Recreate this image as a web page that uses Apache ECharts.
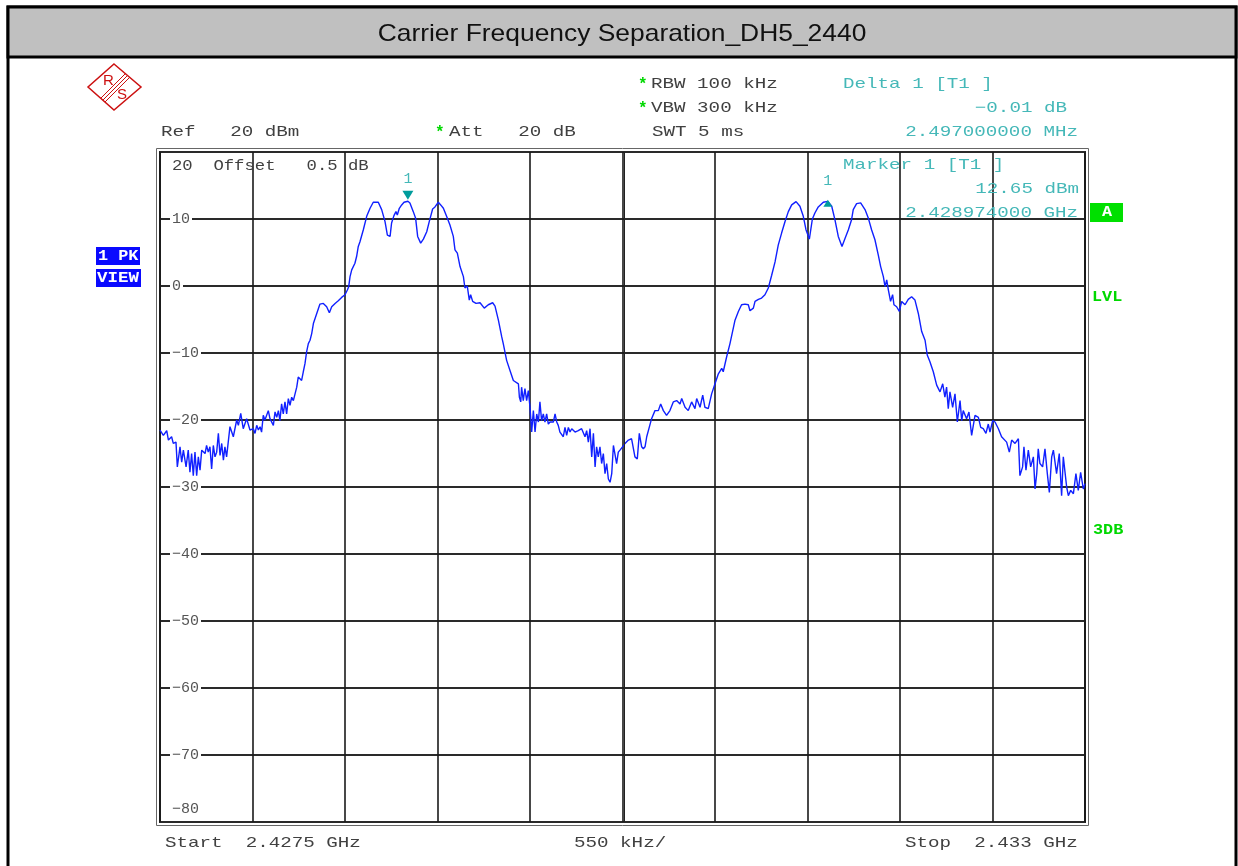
<!DOCTYPE html>
<html>
<head>
<meta charset="utf-8">
<script src="https://cdn.jsdelivr.net/npm/echarts@6/dist/echarts.min.js"></script>
<style>
  html, body { margin: 0; padding: 0; background: #fff; }
  #chart { width: 1238px; height: 866px; }
</style>
</head>
<body>
<div id="chart"></div>
<script>
// sweep runs 2.4275 GHz .. 2.433 GHz, x kept as offset from start in kHz
var spanKHz = 5500;
var divKHz = 550;
var offsetKHz = [
  0,20,40,50,69,79,95,103,119,129,
  139,155,168,178,188,198,208,218,228,238,
  248,268,277,287,297,307,317,327,337,347,
  357,367,377,386,396,416,436,456,466,480,
  495,515,535,555,565,575,585,595,604,614,
  624,644,654,674,684,694,704,713,723,733,
  743,753,763,773,783,793,813,822,842,852,
  862,872,882,892,902,912,932,951,971,981,
  991,1007,1021,1041,1060,1080,1100,1114,1122,1130,
  1140,1159,1169,1179,1189,1209,1229,1249,1268,1298,
  1318,1338,1352,1368,1377,1391,1403,1411,1423,1437,
  1451,1474,1486,1506,1520,1532,1550,1566,1586,1601,
  1621,1635,1655,1669,1685,1704,1724,1744,1754,1768,
  1784,1804,1813,1827,1839,1847,1859,1879,1903,1928,
  1952,1978,1992,2012,2032,2041,2061,2081,2101,2111,
  2131,2137,2145,2150,2160,2170,2180,2190,2200,2210,
  2220,2230,2240,2250,2259,2269,2279,2289,2299,2309,
  2319,2339,2349,2359,2368,2378,2398,2408,2418,2428,
  2438,2448,2468,2487,2507,2517,2527,2537,2547,2557,
  2567,2577,2587,2596,2606,2616,2626,2636,2646,2656,
  2666,2676,2686,2696,2705,2715,2725,2735,2751,2765,
  2785,
  2804,2824,2838,2850,2864,2874,2884,2894,2909,2923,
  2943,2963,2977,2993,3012,3032,3052,3072,3092,3102,
  3122,3141,3161,3181,3191,3211,3227,3240,3260,3280,
  3300,3320,3340,3349,3369,3389,3419,3439,3458,3478,
  3498,3508,3528,3538,3558,3577,3597,3617,3637,3657,
  3676,3696,3716,3736,3756,3782,3805,3825,3841,3861,
  3879,3894,3914,3944,3971,3994,4013,4033,4055,4073,
  4093,4112,4122,4142,4166,4192,4212,4231,4251,4271,
  4285,4301,4311,4321,4331,4344,4356,4364,4380,4396,
  4410,4430,4449,4469,4489,4509,4529,4549,4562,4578,
  4598,4618,4638,4654,4667,4677,4687,4697,4713,4727,
  4741,4757,4767,4776,4796,4810,4826,4846,4866,4880,
  4895,4911,4925,4935,4951,4965,4985,5004,5034,5050,
  5064,5084,5104,5113,5129,5137,5149,5163,5177,5193,
  5203,5213,5222,5232,5248,5262,5276,5288,5302,5312,
  5331,5347,5361,5371,5391,5401,5415,5431,5446,5460,
  5474,5490,5500
];
var levelDbm = [
  -21.5,-22.3,-21.6,-23.0,-22.5,-23.5,-23.3,-27.0,-24.0,-26.3,
  -24.5,-27.0,-24.5,-27.8,-25.0,-28.3,-24.8,-28.3,-25.5,-27.5,
  -24.5,-25.0,-23.8,-24.8,-24.0,-27.3,-23.8,-25.5,-24.8,-22.0,
  -25.3,-23.5,-26.0,-24.0,-25.5,-21.0,-22.5,-20.0,-20.8,-19.0,
  -21.3,-19.8,-21.5,-21.3,-22.0,-20.8,-21.5,-21.0,-21.8,-19.3,
  -20.0,-18.6,-19.8,-20.8,-18.8,-19.6,-18.6,-20.1,-17.6,-19.1,
  -17.3,-19.1,-16.8,-17.8,-16.6,-17.1,-15.1,-13.6,-14.1,-12.8,
  -11.6,-9.8,-8.6,-8.1,-7.1,-5.6,-4.1,-2.7,-2.6,-2.6,
  -3.1,-4.0,-3.1,-2.6,-2.2,-1.7,-1.3,-0.6,-0.1,1.4,
  2.4,3.4,4.4,5.9,6.6,8.4,10.4,11.6,12.5,12.5,
  11.4,9.6,7.6,7.4,9.4,10.5,11.1,10.6,11.6,12.1,
  12.5,12.65,12.4,11.1,10.1,7.4,6.4,7.0,8.1,9.6,
  11.5,11.8,12.5,12.1,11.6,10.4,9.1,7.4,5.4,4.9,
  2.9,1.4,-0.3,0.0,-2.1,-1.3,-2.3,-2.6,-2.5,-3.3,
  -2.8,-2.5,-3.0,-5.1,-7.6,-8.6,-11.1,-12.6,-14.1,-14.3,
  -14.6,-16.6,-17.3,-15.1,-17.1,-15.3,-17.1,-15.6,-18.1,-21.8,
  -18.6,-21.8,-19.1,-20.3,-17.3,-20.1,-19.1,-20.3,-19.1,-20.6,
  -20.3,-20.3,-19.1,-20.3,-20.8,-21.8,-22.5,-21.1,-22.3,-21.1,
  -21.8,-21.3,-21.8,-21.6,-21.3,-21.1,-22.5,-21.6,-23.3,-21.3,
  -25.5,-22.0,-27.0,-24.0,-25.5,-24.0,-26.5,-25.0,-28.0,-26.5,
  -28.8,-29.3,-28.0,-23.8,-24.0,-26.5,-24.8,-24.5,-24.0,-23.5,
  -23.0,
  -22.8,-25.5,-25.8,-22.0,-24.0,-24.3,-24.0,-22.5,-21.1,-19.8,
  -18.6,-18.6,-17.6,-18.6,-19.3,-18.6,-17.3,-17.1,-17.6,-16.8,
  -18.1,-18.6,-17.3,-18.3,-16.8,-18.1,-16.3,-18.1,-18.3,-16.1,
  -14.6,-13.1,-12.3,-12.8,-10.6,-8.6,-5.1,-3.8,-2.8,-2.7,
  -2.8,-3.7,-3.3,-2.3,-2.0,-1.8,-1.3,-0.3,1.6,3.6,
  6.1,7.9,9.6,11.1,12.1,12.6,11.9,10.4,8.4,7.0,
  10.0,10.9,11.8,12.5,12.64,11.9,9.9,7.4,5.9,7.1,
  8.4,9.9,11.4,12.3,12.4,11.4,10.1,8.4,6.9,4.6,
  2.9,1.4,-0.1,0.9,-0.6,-2.3,-1.3,-2.8,-3.1,-3.8,
  -2.3,-2.8,-2.0,-1.6,-2.1,-4.1,-6.8,-8.1,-10.3,-11.3,
  -12.8,-14.8,-15.8,-14.6,-16.6,-15.1,-18.3,-15.8,-18.1,-16.1,
  -20.3,-17.1,-20.1,-18.6,-19.8,-18.8,-22.3,-19.3,-19.6,-21.1,
  -21.3,-22.0,-20.6,-21.8,-20.1,-20.3,-21.3,-22.5,-23.3,-24.8,
  -23.0,-23.5,-22.8,-28.3,-27.0,-24.0,-27.5,-24.5,-27.0,-25.5,
  -30.3,-28.0,-24.3,-26.5,-27.0,-24.3,-28.0,-30.8,-25.5,-24.5,
  -28.0,-25.0,-31.3,-25.5,-30.0,-31.3,-30.5,-31.0,-28.0,-30.5,
  -27.8,-30.3,-29.5
];
var refLevel = 20;
var bottomLevel = -80;
// marker 1 and delta marker (2.497 MHz to the right)
var markerKHz = [1474, 3971];
var markerDbm = [12.65, 12.64];
var centerLineKHz = 2762;

var MONO = '"Liberation Mono", "DejaVu Sans Mono", monospace';
var GRAY = '#404040';
var CYAN = '#45b8b8';
var GREEN = '#00d800';
var RED = '#cc1010';

var trace = offsetKHz.map(function (f, i) { return [f, levelDbm[i]]; });

function txt(x, y, s, color, align, sx, font) {
  return {
    type: 'text', x: x, y: y, scaleX: sx || 1.28, silent: true, z: 20,
    style: {
      text: s, fill: color || GRAY, font: font || ('15px ' + MONO),
      align: align || 'left', textAlign: align || 'left',
      verticalAlign: 'middle', textVerticalAlign: 'middle'
    }
  };
}
function box(x, y, w, h, fill, stroke, lw) {
  return {
    type: 'rect', silent: true, z: 5,
    shape: { x: x, y: y, width: w, height: h },
    style: { fill: fill || 'none', stroke: stroke || null, lineWidth: lw || 0 }
  };
}
function seg(x1, y1, x2, y2, color, lw) {
  return {
    type: 'line', silent: true, z: 20,
    shape: { x1: x1, y1: y1, x2: x2, y2: y2 },
    style: { stroke: color, lineWidth: lw || 1 }
  };
}

var chart = echarts.init(document.getElementById('chart'));

var graphics = [
  // page frame and title bar
  box(8, 7, 1228, 880, 'none', '#000', 3),
  box(8, 7, 1228, 50, '#c0c0c0', '#000', 3),
  txt(622, 34, 'Carrier Frequency Separation_DH5_2440', '#111', 'center', 1.1,
      '24px "Liberation Sans", Arial, sans-serif'),
  // R&S logo
  {
    type: 'polygon', silent: true, z: 20,
    shape: { points: [[114, 64], [141, 87], [114, 110], [88, 87]] },
    style: { fill: 'none', stroke: RED, lineWidth: 1.5 }
  },
  seg(126, 73, 101, 98, RED, 1),
  seg(128, 75, 103, 100, RED, 1),
  seg(130, 77, 105, 102, RED, 1),
  txt(103, 81, 'R', RED, 'left', 1, '15px "Liberation Sans", Arial, sans-serif'),
  txt(117, 95, 'S', RED, 'left', 1, '15px "Liberation Sans", Arial, sans-serif'),
  // outer plot frame line
  box(156.5, 148.5, 932, 677, 'none', '#666', 1),
  // setup text
  txt(161, 132, 'Ref   20 dBm'),
  txt(435, 133, '*', GREEN, 'left', 1, 'bold 16px ' + MONO),
  txt(449, 132, 'Att   20 dB'),
  txt(638, 85, '*', GREEN, 'left', 1, 'bold 16px ' + MONO),
  txt(651, 84, 'RBW 100 kHz'),
  txt(638, 109, '*', GREEN, 'left', 1, 'bold 16px ' + MONO),
  txt(651, 108, 'VBW 300 kHz'),
  txt(652, 132, 'SWT 5 ms'),
  txt(843, 84, 'Delta 1 [T1 ]', CYAN),
  txt(1067, 108, '\u22120.01 dB', CYAN, 'right'),
  txt(1078, 132, '2.497000000 MHz', CYAN, 'right'),
  txt(843, 165, 'Marker 1 [T1 ]', CYAN),
  txt(1079, 189, '12.65 dBm', CYAN, 'right'),
  txt(1078, 213, '2.428974000 GHz', CYAN, 'right'),
  txt(172, 166, '20  Offset   0.5 dB', GRAY, 'left', 1.15),
  txt(172, 809, '\u221280', '#555', 'left', 1),
  txt(165, 843, 'Start  2.4275 GHz'),
  txt(574, 843, '550 kHz/'),
  txt(905, 843, 'Stop  2.433 GHz'),
  // trace/status labels
  box(96, 247, 44, 18, '#0a0aff'),
  txt(98, 256, '1 PK', '#fff', 'left', 1.2, 'bold 14px ' + MONO),
  box(96, 269, 45, 18, '#0a0aff'),
  txt(97, 278, 'VIEW', '#fff', 'left', 1.25, 'bold 14px ' + MONO),
  box(1090, 203, 33, 19, '#00e000'),
  txt(1102, 212, 'A', '#fff', 'left', 1.2, 'bold 14px ' + MONO),
  txt(1092, 297, 'LVL', GREEN, 'left', 1.2, 'bold 14px ' + MONO),
  txt(1093, 530, '3DB', GREEN, 'left', 1.2, 'bold 14px ' + MONO)
];

var option = {
  animation: false,
  backgroundColor: '#fff',
  grid: {
    left: 160, top: 152, width: 925, height: 670,
    show: true, borderColor: '#222', borderWidth: 2, backgroundColor: 'transparent',
    containLabel: false, outerBoundsMode: 'none'
  },
  xAxis: {
    type: 'value', min: 0, max: spanKHz, interval: divKHz,
    axisLine: { show: false }, axisTick: { show: false }, axisLabel: { show: false },
    splitLine: { show: true, lineStyle: { color: '#1a1a1a', width: 1.6 } }
  },
  yAxis: {
    type: 'value', min: bottomLevel, max: refLevel, interval: 10,
    axisLine: { show: false }, axisTick: { show: false },
    axisLabel: {
      inside: true, margin: 10, color: '#555', fontFamily: MONO, fontSize: 15,
      backgroundColor: '#fff', padding: [0, 2, 0, 2],
      showMinLabel: false, showMaxLabel: false,
      formatter: function (v) { return v < 0 ? '\u2212' + (-v) : String(v); }
    },
    splitLine: { show: true, lineStyle: { color: '#2a2a2a', width: 1.8 } }
  },
  series: [{
    type: 'line',
    data: trace,
    showSymbol: false,
    symbol: 'none',
    lineStyle: { color: '#1020ff', width: 1.4 },
    z: 3,
    markLine: {
      silent: true, symbol: 'none', animation: false,
      label: { show: false },
      lineStyle: { color: '#222', width: 1, type: 'solid' },
      data: [{ xAxis: centerLineKHz }]
    },
    markPoint: {
      silent: true, animation: false,
      data: [
        {
          coord: [markerKHz[0], markerDbm[0]],
          symbol: 'path://M0,0L10,0L5,8Z', symbolSize: [11, 9], symbolOffset: [0, -6],
          itemStyle: { color: '#009c9c' },
          label: { show: true, position: 'top', distance: 4, formatter: '1', color: CYAN, fontFamily: MONO, fontSize: 15 }
        },
        {
          coord: [markerKHz[1], markerDbm[1]],
          symbol: 'triangle', symbolSize: [9, 7], symbolOffset: [0, 2],
          itemStyle: { color: '#009c9c' },
          label: { show: true, position: 'top', distance: 11, formatter: '1', color: CYAN, fontFamily: MONO, fontSize: 15 }
        }
      ]
    }
  }],
  graphic: graphics
};

chart.setOption(option);
</script>
</body>
</html>
